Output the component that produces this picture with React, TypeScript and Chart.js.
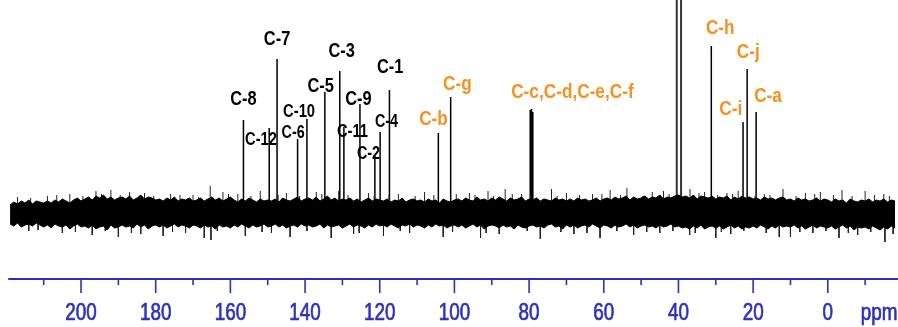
import { useEffect, useRef } from 'react';
import { Chart, registerables } from 'chart.js';

Chart.register(...registerables);

// ---------- data (ppm on x, intensity in arbitrary units on y) ----------
const axisTicks = [210, 200, 190, 180, 170, 160, 150, 140, 130, 120, 110, 100, 90, 80, 70, 60, 50, 40, 30, 20, 10, 0, -10];
const axisUnit = 'ppm';

// baseline noise envelope, sampled every 1 ppm starting at 219 ppm
const noiseStart = 219;
const noiseUpper = [
  8, 11, 9, 12, 10, 13, 9, 12, 11, 10,
  12, 10, 13, 11, 14, 12, 10, 13, 15, 12,
  14, 16, 13, 17, 15, 18, 14, 16, 13, 15,
  16, 14, 17, 13, 15, 18, 14, 16, 15, 13,
  14, 12, 15, 13, 16, 12, 14, 13, 15, 12,
  13, 15, 12, 14, 16, 13, 15, 12, 14, 16,
  13, 11, 14, 12, 15, 13, 11, 14, 12, 13,
  12, 14, 11, 15, 13, 12, 14, 16, 12, 14,
  15, 13, 16, 12, 14, 17, 13, 15, 12, 14,
  13, 15, 12, 14, 11, 13, 15, 12, 14, 13,
  12, 14, 11, 13, 12, 15, 11, 13, 14, 12,
  13, 11, 14, 12, 13, 10, 14, 12, 11, 13,
  14, 12, 15, 13, 12, 16, 13, 14, 12, 15,
  13, 16, 14, 12, 15, 13, 14, 16, 12, 14,
  13, 15, 12, 14, 13, 12, 15, 13, 14, 12,
  14, 12, 15, 13, 14, 12, 13, 15, 12, 14,
  15, 13, 16, 14, 15, 17, 13, 16, 14, 15,
  17, 14, 16, 15, 18, 14, 16, 15, 17,
  18, 16, 17, 15, 18, 14, 17, 16, 15, 17,
  14, 16, 15, 17, 13, 16, 14, 17, 15, 16,
  14, 15, 13, 16, 14, 15, 13, 15, 16, 13,
  14, 12, 15, 13, 14, 12, 13, 15, 12, 14,
  13, 11, 14, 12, 13, 10, 14, 12, 11, 13,
  12, 14, 11, 13, 12, 14, 11, 13, 12,
];
const noiseLower = [
  -11, -13, -10, -14, -12, -11, -13, -10, -12, -14,
  -12, -15, -11, -13, -14, -12, -16, -13, -11, -14,
  -13, -15, -12, -16, -14, -13, -17, -12, -15, -14,
  -12, -14, -13, -15, -11, -14, -12, -16, -13, -12,
  -14, -12, -15, -13, -11, -14, -12, -13, -15, -12,
  -13, -15, -12, -14, -13, -16, -12, -14, -13, -15,
  -12, -14, -11, -13, -15, -12, -14, -13, -11, -14,
  -13, -11, -14, -12, -15, -13, -12, -14, -11, -13,
  -12, -14, -13, -11, -15, -12, -14, -13, -12, -15,
  -13, -11, -14, -12, -13, -15, -12, -14, -11, -13,
  -12, -14, -11, -13, -15, -12, -13, -11, -14, -12,
  -13, -15, -12, -14, -11, -13, -12, -15, -13, -12,
  -14, -12, -15, -13, -11, -14, -12, -16, -13, -12,
  -13, -15, -12, -14, -13, -16, -12, -14, -15, -13,
  -12, -14, -13, -15, -12, -11, -14, -13, -16, -12,
  -14, -12, -15, -13, -12, -14, -11, -13, -15, -12,
  -13, -15, -12, -14, -13, -11, -14, -12, -15, -13,
  -12, -14, -13, -15, -12, -14, -13, -11, -14,
  -13, -15, -14, -16, -13, -15, -12, -16, -14, -13,
  -15, -13, -16, -14, -12, -15, -13, -16, -14, -15,
  -13, -15, -12, -14, -16, -13, -15, -12, -14, -13,
  -14, -12, -15, -13, -16, -14, -12, -15, -13, -14,
  -15, -13, -16, -14, -12, -15, -13, -17, -14, -15,
  -14, -16, -13, -15, -17, -14, -16, -13, -15,
];

// isolated noise spikes sticking out of the band
const spikePpm = [
  217, 209, 203, 196, 192, 187, 183, 176, 170, 165.4, 162, 158, 152, 145, 137, 131, 123, 115, 108,
  96, 91, 86.4, 82, 74, 70, 63, 58.3, 53.8, 47, 44, 36.9, 33, 27, 24, 17, 12, 6, 2, -3.8, -10, -15,
  214, 205, 197, 190, 184, 178, 172, 167, 165.2, 156, 149, 144, 133, 127, 119, 112, 103, 93, 88,
  77, 68, 61, 52, 45, 37, 30, 26, 13, 10, 4, -3, -8, -15.3,
  213.5, 206.5, 199.5, 194.5, 189.5, 180.5, 173.5, 168.5, 160.5, 154.5, 147.2, 141.5, 135.5, 128.5,
  121.5, 117.5, 110.5, 105.5, 99.5, 94.5, 89.5, 84.5, 79.5, 72.5, 66.5, 60.5, 55.5, 49.5, 42.5,
  34.5, 29.5, 25.5, 19.5, 15.5, 8.5, 3.5, -1.5, -6.5, -12.5, -16.5,
  211.5, 201.5, 193.5, 186.5, 175.5, 163.5, 151.5, 139.5, 125.5, 114.5, 100.5, 91.5, 80.5, 71.5,
  64.5, 56.5, 48.5, 41.5, 35.5, 28.5, 22.5, 16.5, 7.5, 0.5, -5.5, -11.5, -17.5,
];
const spikeValue = [
  16, 17, 19, 22, 23, 21, 20, 19, 18, 27, 21, 19, 22, 20, 21, 22, 20, 19, 21,
  20, 22, 24, 19, 24, 20, 19, 23, 25, 21, 22, 24, 21, 20, 22, 19, 24, 20, 21, 23, 22, 19,
  -18, -20, -22, -24, -21, -23, -20, -25, -27, -23, -20, -24, -25, -21, -23, -20, -24, -25, -21,
  -26, -21, -25, -22, -20, -22, -25, -21, -24, -24, -20, -25, -22, -29,
  15, 18, 17, 19, 18, 17, 18, 16, 19, 17, 18, 17, 19, 18,
  17, 18, 17, 18, 19, 18, 17, 19, 18, 17, 18, 19, 18, 17, 19,
  20, 18, 19, 17, 18, 17, 19, 18, 17, 18, 17,
  -17, -19, -18, -20, -19, -18, -19, -18, -20, -18, -19, -20, -18, -19,
  -20, -18, -19, -18, -20, -19, -18, -20, -19, -18, -20, -19, -21,
];

// resonance lines
const peakPpm = [156.5, 149.6, 147.5, 142.0, 139.5, 134.7, 130.7, 129.6, 125.3, 121.3, 119.9, 117.4,
  104.3, 101.0, 79.7, 79.35, 79.0, 31.2, 22.7, 21.6, 19.2];
const peakHeight = [93, 85, 154, 74, 94, 121, 142, 86, 109, 58, 81, 123,
  80, 116, 103, 104, 101, 167, 91, 144, 101];

// solvent (DMSO) lines, off scale
const solventPpm = [40.45, 39.3];
const solventHeight = [400, 400];

// peak assignments: text, centre (ppm), text baseline (intensity units)
const labelText = ['C-8', 'C-12', 'C-7', 'C-6', 'C-10', 'C-5', 'C-3', 'C-11', 'C-9', 'C-2', 'C-4', 'C-1',
  'C-b', 'C-g', 'C-c,C-d,C-e,C-f', 'C-h', 'C-i', 'C-j', 'C-a'];
const labelPpm = [156.5, 151.8, 147.5, 143.2, 141.6, 135.8, 130.2, 127.3, 125.7, 123.0, 118.2, 117.2,
  105.6, 99.2, 68.4, 28.8, 26.0, 21.3, 16.0];
const labelLevel = [108, 68, 168, 75, 96, 121, 156, 76, 108, 54, 86, 140,
  88, 123, 115, 179, 98, 155, 111];

// ---------- styles ----------
const BLUE = '#2F2FBF';
const ORANGE = '#F7901E';
const X_MIN = -18.8;
const X_MAX = 221.7;
const Y_MIN = -66;
const Y_MAX = 213;

function hasFont(name: string) {
  const c = document.createElement('canvas').getContext('2d');
  if (!c) return false;
  const s = 'mmmwwwiiilll0123456789';
  c.font = '40px monospace';
  const a = c.measureText(s).width;
  c.font = `40px "${name}", monospace`;
  const b = c.measureText(s).width;
  return Math.abs(a - b) > 0.5;
}

const NARROW = hasFont('Liberation Sans Narrow');
const FAMILY = NARROW ? '"Liberation Sans Narrow", "Liberation Sans", Arial, sans-serif' : '"Liberation Sans", Arial, sans-serif';
const SX = NARROW ? 1 : 0.82;

function labelStyle(text: string) {
  const orange = /C-[a-j]/.test(text);
  const small = ['C-12', 'C-10', 'C-11'].includes(text);
  const smaller = ['C-6', 'C-2', 'C-4'].includes(text);
  return {
    color: orange ? ORANGE : '#000',
    size: orange ? 21 : small ? 18 : smaller ? 17.5 : 20,
  };
}

function sticks(ppm: number[], h: number[]) {
  const out: any[] = [];
  ppm.forEach((p, i) => {
    out.push({ x: p, y: 0 }, { x: p, y: h[i] }, { x: p, y: null });
  });
  return out;
}

function drawText(ctx: CanvasRenderingContext2D, t: string, px: number, py: number, font: string,
  color: string, align: CanvasTextAlign, stroke = 0) {
  ctx.save();
  ctx.font = font;
  ctx.fillStyle = color;
  ctx.textAlign = align;
  ctx.textBaseline = 'alphabetic';
  ctx.translate(px, py);
  ctx.scale(SX, 1);
  ctx.fillText(t, 0, 0);
  if (stroke > 0) {
    ctx.strokeStyle = color;
    ctx.lineWidth = stroke;
    ctx.strokeText(t, 0, 0);
  }
  ctx.restore();
}

const overlay = {
  id: 'overlay',
  afterDatasetsDraw(chart: any) {
    const { ctx, chartArea, scales } = chart;
    const x = scales.x;
    const y = scales.y;
    ctx.save();
    // axis line
    const yb = chartArea.bottom;
    ctx.strokeStyle = BLUE;
    ctx.lineWidth = 2;
    ctx.beginPath();
    ctx.moveTo(x.getPixelForValue(noiseStart + 0.5), yb);
    ctx.lineTo(chartArea.right, yb);
    ctx.stroke();
    // tick marks
    ctx.lineWidth = 1.6;
    axisTicks.forEach((v) => {
      const px = x.getPixelForValue(v);
      const len = v % 20 === 0 ? 14 : 6;
      ctx.beginPath();
      ctx.moveTo(px, yb);
      ctx.lineTo(px, yb + len);
      ctx.stroke();
    });
    // tick labels from the scale's own ticks
    const tickFont = `23px ${FAMILY}`;
    x.ticks.forEach((t: any) => {
      if (t.value > 200) return;
      drawText(ctx, String(t.value), x.getPixelForValue(t.value), yb + 41, tickFont, BLUE, 'center', 0.7);
    });
    // unit
    drawText(ctx, axisUnit, x.getPixelForValue(-8.8), yb + 41, tickFont, BLUE, 'left', 0.7);
    // peak labels
    labelText.forEach((t, i) => {
      const st = labelStyle(t);
      drawText(ctx, t, x.getPixelForValue(labelPpm[i]), y.getPixelForValue(labelLevel[i]),
        `bold ${st.size}px ${FAMILY}`, st.color, 'center');
    });
    ctx.restore();
  },
};

export default function App() {
  const ref = useRef<HTMLCanvasElement | null>(null);
  useEffect(() => {
    if (!ref.current) return;
    const noisePts = noiseUpper.map((_, i) => noiseStart - i);
    const chart = new Chart(ref.current, {
      type: 'line',
      data: {
        datasets: [
          {
            label: 'noise+',
            data: noiseUpper.map((v, i) => ({ x: noisePts[i], y: v })),
            borderColor: '#000',
            borderWidth: 1,
            backgroundColor: '#000',
            pointRadius: 0,
            fill: '+1',
          },
          {
            label: 'noise-',
            data: noiseLower.map((v, i) => ({ x: noisePts[i], y: v })),
            borderColor: '#000',
            borderWidth: 1,
            pointRadius: 0,
            fill: false,
          },
          {
            label: 'spikes',
            data: sticks(spikePpm, spikeValue),
            borderColor: '#222',
            borderWidth: 1,
            pointRadius: 0,
            fill: false,
          },
          {
            label: 'solvent',
            data: sticks(solventPpm, solventHeight),
            borderColor: '#333',
            borderWidth: 2,
            pointRadius: 0,
            fill: false,
          },
          {
            label: 'peaks',
            data: sticks(peakPpm, peakHeight),
            borderColor: '#000',
            borderWidth: 1.5,
            pointRadius: 0,
            fill: false,
          },
        ],
      },
      options: {
        animation: false,
        responsive: false,
        devicePixelRatio: 1,
        layout: { padding: 0, autoPadding: false },
        plugins: { legend: { display: false }, tooltip: { enabled: false } },
        scales: {
          x: {
            type: 'linear',
            reverse: true,
            min: X_MIN,
            max: X_MAX,
            position: 'bottom',
            afterFit: (s: any) => { s.height = 48; },
            grid: { display: false, drawTicks: false },
            border: { display: false },
            ticks: {
              stepSize: 20,
              includeBounds: false,
              autoSkip: false,
              maxRotation: 0,
              display: false,
            },
          },
          y: { display: false, min: Y_MIN, max: Y_MAX },
        },
      },
      plugins: [overlay],
    });
    return () => chart.destroy();
  }, []);
  return (
    <div style={{ position: 'fixed', left: 0, top: 0, width: 898, height: 327, background: '#fff' }}>
      <canvas ref={ref} width={898} height={327} />
    </div>
  );
}
